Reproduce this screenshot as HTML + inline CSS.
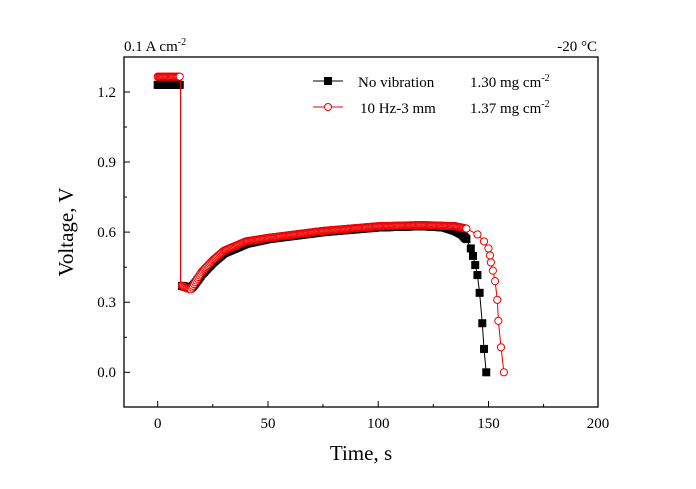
<!DOCTYPE html>
<html><head><meta charset="utf-8"><style>
body{margin:0;background:#fff;}
svg{display:block;font-family:"Liberation Serif",serif;}
</style></head><body>
<svg id="s" width="696" height="489" xmlns="http://www.w3.org/2000/svg">
<rect width="696" height="489" fill="#fff"/>
<g id="data"></g>
<rect x="124" y="57" width="474" height="350" fill="none" stroke="#000" stroke-width="1.3"/>
<g stroke="#000" stroke-width="1">
<line x1="157.7" y1="407" x2="157.7" y2="401"/><line x1="212.8" y1="407" x2="212.8" y2="404"/>
<line x1="268" y1="407" x2="268" y2="401"/><line x1="323" y1="407" x2="323" y2="404"/>
<line x1="378.2" y1="407" x2="378.2" y2="401"/><line x1="433.3" y1="407" x2="433.3" y2="404"/>
<line x1="488.5" y1="407" x2="488.5" y2="401"/><line x1="543.6" y1="407" x2="543.6" y2="404"/>
<line x1="124" y1="372.3" x2="130" y2="372.3"/><line x1="124" y1="337.3" x2="127" y2="337.3"/>
<line x1="124" y1="302.2" x2="130" y2="302.2"/><line x1="124" y1="267.2" x2="127" y2="267.2"/>
<line x1="124" y1="232.1" x2="130" y2="232.1"/><line x1="124" y1="197.1" x2="127" y2="197.1"/>
<line x1="124" y1="162" x2="130" y2="162"/><line x1="124" y1="127" x2="127" y2="127"/>
<line x1="124" y1="92" x2="130" y2="92"/>
</g>
<g font-size="15" text-anchor="middle">
<text x="157.7" y="428">0</text><text x="268" y="428">50</text><text x="378.2" y="428">100</text>
<text x="488.5" y="428">150</text><text x="598" y="428">200</text>
</g>
<g font-size="15" text-anchor="end">
<text x="116" y="377">0.0</text><text x="116" y="307">0.3</text><text x="116" y="237">0.6</text>
<text x="116" y="167">0.9</text><text x="116" y="97">1.2</text>
</g>
<text x="361" y="460" font-size="21" text-anchor="middle">Time, s</text>
<text transform="translate(73,232) rotate(-90)" font-size="21" text-anchor="middle">Voltage, V</text>
<text x="124" y="51" font-size="15">0.1 A cm<tspan font-size="10" dy="-6">-2</tspan></text>
<text x="597" y="51" font-size="15" text-anchor="end">-20 °C</text>
<line x1="313" y1="81" x2="343" y2="81" stroke="#000"/><rect x="324" y="77" width="8" height="8" fill="#000"/>
<text x="358" y="87" font-size="15">No vibration   <tspan x="470">1.30 mg cm</tspan><tspan font-size="10" dy="-6">-2</tspan></text>
<line x1="313" y1="107" x2="343" y2="107" stroke="#e00"/><circle cx="328" cy="107" r="3.5" fill="#fff" stroke="#e00"/>
<text x="360" y="113" font-size="15">10 Hz-3 mm <tspan x="470">1.37 mg cm</tspan><tspan font-size="10" dy="-6">-2</tspan></text>
</svg>
<script>
var X=t=>157.7+2.205*t,Y=v=>372.3-233.7*v;
function interp(k,t){for(var i=0;i<k.length-1;i++){if(t>=k[i][0]&&t<=k[i+1][0]){var a=k[i],b=k[i+1];return a[1]+(b[1]-a[1])*(t-a[0])/(b[0]-a[0]);}}return k[k.length-1][1];}
var bk=[[11,0.37],[13,0.365],[15,0.36],[17,0.38],[20,0.42],[25,0.47],[30,0.51],[40,0.55],[50,0.57],[75,0.60],[100,0.62],[120,0.625],[130,0.62],[135,0.605],[138,0.59],[140,0.57],[142,0.53],[143,0.498],[144,0.459],[145,0.416],[146,0.34],[147.2,0.21],[148,0.10],[149,0]];
var rk=[[11,0.37],[13,0.36],[15,0.355],[17,0.385],[20,0.43],[25,0.48],[30,0.52],[40,0.56],[50,0.575],[75,0.605],[100,0.625],[120,0.63],[135,0.625],[140,0.615],[145,0.59],[148,0.56],[150,0.53],[150.7,0.5],[151.1,0.47],[152,0.435],[153,0.39],[154,0.31],[154.5,0.22],[155.7,0.107],[157,0]];
function pts(k,v0){var p=[];for(var t=0;t<=10;t+=0.5)p.push([t,v0]);for(var t=11;t<140;t+=0.5)p.push([t,interp(k,t)]);k.forEach(function(q){if(q[0]>=140)p.push(q);});return p;}
var bp=pts(bk,1.23),rp=pts(rk,1.265),h='';
function path(p,c,v0){var q=p.slice();var i=q.findIndex(a=>a[0]>10.2);q.splice(i,0,[10.4,v0],[10.4,0.37]);return '<polyline fill="none" stroke="'+c+'" stroke-width="1" points="'+q.map(q=>X(q[0]).toFixed(1)+','+Y(q[1]).toFixed(1)).join(' ')+'"/>';}
h+=path(bp,'#000',1.23);
bp.forEach(q=>{h+='<rect x="'+(X(q[0])-4)+'" y="'+(Y(q[1])-4)+'" width="8" height="8" fill="#000"/>';});
h+=path(rp,'#e00',1.265);
rp.forEach(q=>{h+='<circle cx="'+X(q[0])+'" cy="'+Y(q[1])+'" r="3.6" fill="#fff" stroke="#e00" stroke-width="1"/>';});
document.getElementById('data').innerHTML=h;
</script>
</body></html>
